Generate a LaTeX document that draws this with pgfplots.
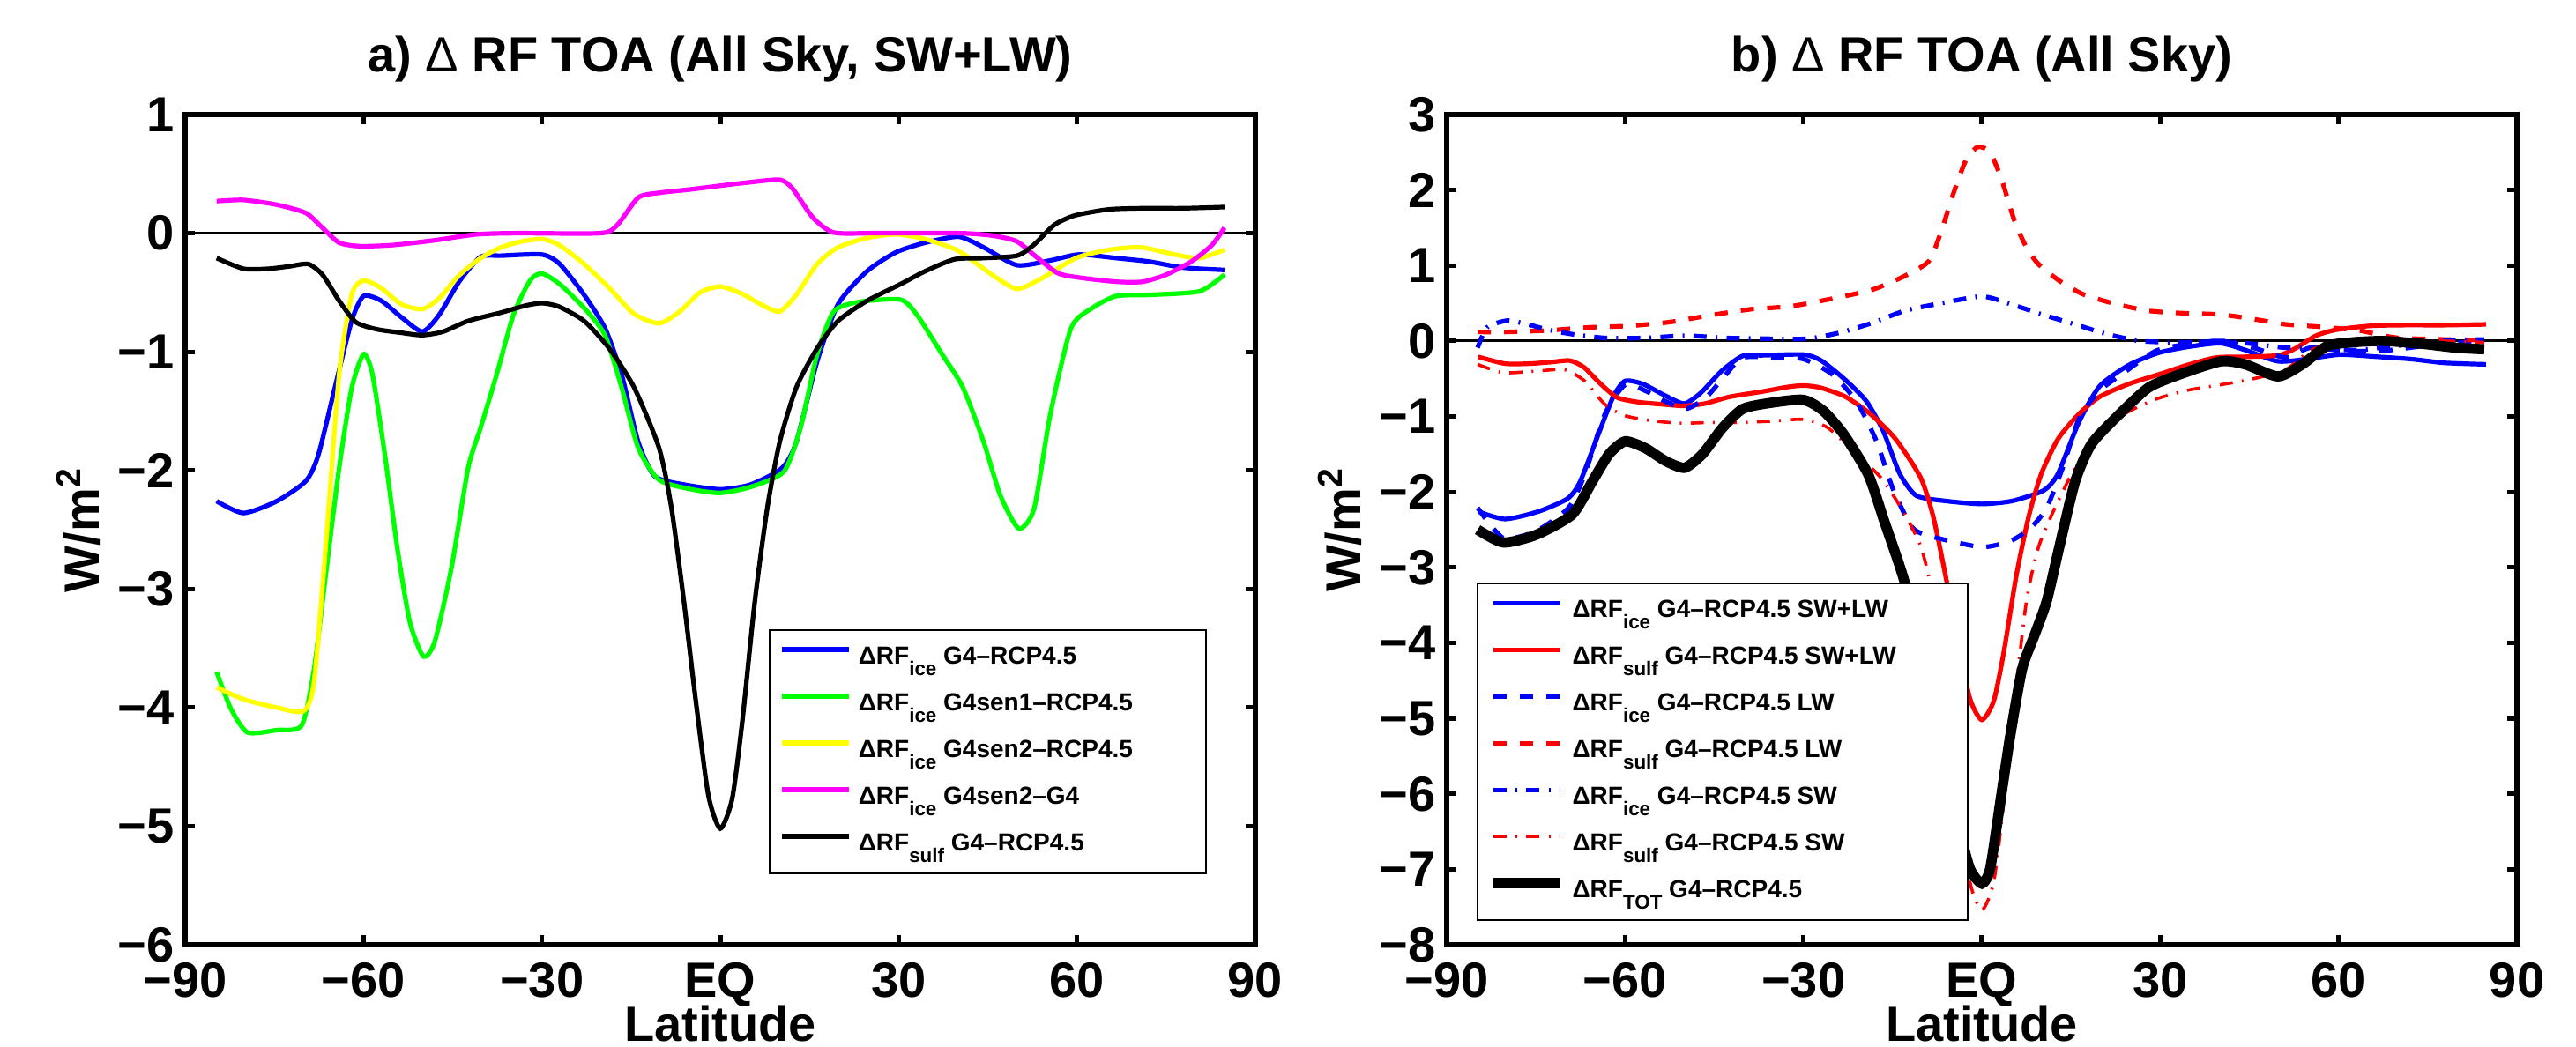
\documentclass[border=0pt]{standalone}
\usepackage{fontspec}
\setmainfont{Liberation Sans}
\usepackage{pgfplots}
\pgfplotsset{compat=1.18}

\definecolor{mblue}{rgb}{0,0,1}
\definecolor{mgreen}{rgb}{0,1,0}
\definecolor{myellow}{rgb}{1,1,0}
\definecolor{mmag}{rgb}{1,0,1}
\definecolor{mred}{rgb}{1,0,0}

\newcommand\sub[1]{\raisebox{-3.4pt}{\fontsize{5.6}{5.6}\selectfont #1}}

\pgfplotstableread{
x y
-84.7 -2.26
-80.2 -2.36
-74.6 -2.26
-69.7 -2.09
-67.6 -1.87
-64.8 -1.30
-62.0 -0.74
-60.0 -0.53
-57.0 -0.57
-53.6 -0.71
-50.1 -0.83
-47.3 -0.69
-43.8 -0.40
-40.3 -0.20
-36.9 -0.19
-30.0 -0.18
-27.0 -0.26
-22.9 -0.52
-19.4 -0.80
-16.6 -1.19
-13.8 -1.76
-11.0 -2.05
-6.1 -2.12
0 -2.16
5.1 -2.12
10.4 -1.98
12.8 -1.76
16.3 -1.08
19.8 -0.60
24.7 -0.32
29.6 -0.16
34.5 -0.08
40.1 -0.03
44.3 -0.12
49.9 -0.27
55.5 -0.23
60.3 -0.18
66.6 -0.21
72.2 -0.24
77.8 -0.29
84.8 -0.31
}\iceGfour

\pgfplotstableread{
x y
-84.7 -0.21
-80.2 -0.30
-76.0 -0.30
-72.5 -0.28
-69.3 -0.26
-66.9 -0.35
-64.1 -0.57
-61.3 -0.75
-57.8 -0.81
-53.6 -0.84
-50.1 -0.86
-46.6 -0.83
-42.4 -0.74
-36.9 -0.67
-32.7 -0.61
-30.0 -0.59
-27.1 -0.62
-22.9 -0.74
-18.7 -0.97
-14.5 -1.30
-10.3 -1.81
-8.2 -2.32
-6.1 -3.11
-4.1 -3.95
-2.0 -4.74
0 -5.02
2.0 -4.77
3.7 -4.12
5.8 -3.11
7.9 -2.32
10.0 -1.76
12.8 -1.30
16.3 -0.97
19.8 -0.74
24.7 -0.57
30.3 -0.43
34.5 -0.32
39.4 -0.22
44.3 -0.21
49.9 -0.19
52.7 -0.10
56.2 0.07
59.7 0.15
65.3 0.20
70.9 0.21
77.9 0.21
84.8 0.22
}\sulfGfour

\pgfplotsset{
  panel/.style={
    scale only axis, width=303.5pt, height=235.5pt,
    xmin=-90, xmax=90, xtick={-90,-60,-30,0,30,60,90},
    xticklabels={−90,−60,−30,EQ,30,60,90},
    tick align=inside, tick pos=both, major tick length=2.7pt,
    axis line style={line width=1.3pt},
    every tick/.style={black, line width=1.3pt},
    ticklabel style={font=\fontsize{14}{14}\selectfont\bfseries, inner sep=0pt},
    xticklabel style={anchor=north, yshift=-5pt},
    yticklabel style={anchor=east, xshift=-3pt},
    xlabel={Latitude}, ylabel={W/m\textsuperscript{2}},
    every axis x label/.style={at={(axis description cs:0.5,-0.0955)}, anchor=center, inner sep=0pt, font=\fontsize{14}{14}\selectfont\bfseries},
    every axis y label/.style={at={(axis description cs:-0.10,0.5)}, anchor=center, rotate=90, inner sep=0pt, font=\fontsize{14}{14}\selectfont\bfseries},
    every axis title/.style={at={(axis description cs:0.5,1.051)}, anchor=base, font=\fontsize{14}{14}\selectfont\bfseries},
    legend cell align=left,
    legend style={draw=black, line width=0.5pt, fill=white,
      font=\fontsize{7}{8}\selectfont\bfseries,
      inner xsep=3pt, inner ysep=4pt, row sep=5.25pt,
      nodes={inner sep=0pt, text height=5.5pt, text depth=2.5pt},
      /tikz/every odd column/.append style={column sep=2pt}},
    legend image code/.code={\draw[#1] (0pt,2.5pt) -- (19pt,2.5pt);},
  },
  lw/.style={line width=1.3pt, smooth, tension=0.4},
  dsh/.style={dash pattern=on 3.75pt off 3.75pt},
  dshdot/.style={dash pattern=on 3.7pt off 2.6pt on 0.5pt off 2.6pt},
}

\begin{document}
\begin{tikzpicture}
\path[use as bounding box] (0,0) rectangle (730.5pt,297pt);

% ---------------- panel a ----------------
\begin{axis}[panel, at={(52.5pt,29pt)}, anchor=south west,
  ymin=-6, ymax=1, ytick={-6,-5,-4,-3,-2,-1,0,1},
  yticklabels={−6,−5,−4,−3,−2,−1,0,1},
  title={a) {\mdseries Δ} RF TOA (All Sky, SW+LW)},
  legend style={at={(0.545,0.380)}, anchor=north west}]
\addplot[black, line width=0.7pt, forget plot] coordinates {(-90,0) (90,0)};
\addplot[mblue, lw] table {\iceGfour};
\addlegendentry{\makebox[95.5pt][l]{ΔRF\sub{ice} G4–RCP4.5}}
\addplot[mgreen, lw] coordinates {
(-84.7,-3.70) (-82.3,-4.01) (-79.5,-4.21) (-74.6,-4.19) (-70.4,-4.15) (-68.3,-3.67)
(-66.2,-2.82) (-64.1,-1.98) (-62.0,-1.31) (-60.0,-1.02) (-58.5,-1.19) (-56.4,-1.87)
(-54.3,-2.66) (-52.2,-3.28) (-49.9,-3.57) (-48.0,-3.44) (-45.2,-2.82) (-42.4,-1.98)
(-40.3,-1.64) (-37.6,-1.19) (-34.8,-0.69) (-32.0,-0.40) (-30.0,-0.34) (-27.0,-0.43)
(-22.9,-0.63) (-19.4,-0.86) (-16.6,-1.30) (-13.8,-1.81) (-10.3,-2.08) (-4.8,-2.16)
(0,-2.19) (5.1,-2.14) (10.7,-2.01) (13.5,-1.64) (16.3,-1.02) (19.1,-0.66) (23.3,-0.58)
(30.3,-0.56) (33.1,-0.69) (37.3,-1.02) (40.8,-1.30) (44.3,-1.76) (47.1,-2.21)
(50.2,-2.49) (52.8,-2.32) (55.5,-1.53) (59.0,-0.80) (62.6,-0.63) (66.6,-0.53)
(72.2,-0.52) (80.6,-0.49) (84.8,-0.35)};
\addlegendentry{\makebox[95.5pt][l]{ΔRF\sub{ice} G4sen1–RCP4.5}}
\addplot[myellow, lw] coordinates {
(-84.7,-3.83) (-80.2,-3.93) (-74.6,-4.00) (-70.1,-4.03) (-68.3,-3.78) (-66.2,-2.54)
(-64.1,-1.19) (-62.0,-0.52) (-60.0,-0.40) (-57.1,-0.46) (-53.6,-0.60) (-50.1,-0.64)
(-47.3,-0.55) (-43.8,-0.35) (-40.3,-0.21) (-36.9,-0.12) (-33.4,-0.07) (-30.0,-0.05)
(-27.1,-0.10) (-22.9,-0.26) (-18.7,-0.46) (-14.5,-0.68) (-10.3,-0.76) (-6.8,-0.66)
(-3.4,-0.50) (0,-0.45) (3.6,-0.51) (7.2,-0.61) (10.0,-0.66) (12.8,-0.52) (16.3,-0.26)
(19.8,-0.12) (24.7,-0.04) (29.6,-0.01) (34.5,-0.05) (40.1,-0.15) (45.7,-0.35)
(49.9,-0.47) (54.1,-0.38) (59.8,-0.21) (65.4,-0.14) (70.8,-0.12) (76.4,-0.18)
(80.6,-0.21) (84.8,-0.14)};
\addlegendentry{\makebox[95.5pt][l]{ΔRF\sub{ice} G4sen2–RCP4.5}}
\addplot[mmag, lw] coordinates {
(-84.7,0.27) (-80.2,0.28) (-74.6,0.24) (-69.7,0.17) (-66.9,0.045) (-64.1,-0.08)
(-60.6,-0.11) (-55.0,-0.10) (-48.0,-0.06) (-41.0,-0.01) (-34.1,0) (-20.1,0)
(-17.3,0.07) (-13.8,0.30) (-10.3,0.34) (-4.8,0.37) (0,0.40) (5.1,0.43) (10.0,0.45)
(12.1,0.38) (15.6,0.13) (19.1,0.005) (26.1,0) (40.1,0) (45.7,-0.02) (49.9,-0.07)
(53.4,-0.21) (56.9,-0.34) (61.2,-0.38) (66.8,-0.41) (71.0,-0.41) (75.0,-0.35)
(79.2,-0.24) (82.7,-0.10) (84.8,0.045)};
\addlegendentry{\makebox[95.5pt][l]{ΔRF\sub{ice} G4sen2–G4}}
\addplot[black, lw] table {\sulfGfour};
\addlegendentry{\makebox[95.5pt][l]{ΔRF\sub{sulf} G4–RCP4.5}}
\end{axis}

% ---------------- panel b ----------------
\begin{axis}[panel, at={(410.25pt,29pt)}, anchor=south west,
  ymin=-8, ymax=3, ytick={-8,-7,-6,-5,-4,-3,-2,-1,0,1,2,3},
  yticklabels={−8,−7,−6,−5,−4,−3,−2,−1,0,1,2,3},
  title={b) {\mdseries Δ} RF TOA (All Sky)},
  legend style={at={(0.028,0.436)}, anchor=north west}]
\addplot[black, line width=0.7pt, forget plot] coordinates {(-90,0) (90,0)};
\addplot[mblue, lw] table {\iceGfour};
\addlegendentry{\makebox[109pt][l]{ΔRF\sub{ice} G4–RCP4.5 SW+LW}}
\addplot[mred, lw] table {\sulfGfour};
\addlegendentry{\makebox[109pt][l]{ΔRF\sub{sulf} G4–RCP4.5 SW+LW}}
\addplot[mblue, lw, dsh] coordinates {
(-84.8,-2.21) (-80.5,-2.61) (-75.0,-2.52) (-69.5,-2.21) (-66.8,-1.77) (-63.4,-0.97)
(-60.0,-0.58) (-56.6,-0.66) (-53.2,-0.80) (-49.8,-0.90) (-46.4,-0.75) (-43.0,-0.44)
(-40.2,-0.22) (-34.8,-0.22) (-30.0,-0.24) (-25.2,-0.44) (-21.1,-0.80) (-17.7,-1.33)
(-15.0,-1.95) (-11.6,-2.48) (-7.5,-2.61) (0,-2.73) (4.8,-2.65) (8.2,-2.48)
(10.9,-2.21) (13.6,-1.68) (16.4,-1.02) (19.8,-0.66) (23.9,-0.42) (29.3,-0.13)
(34.8,-0.04) (40.2,0) (45.7,-0.09) (51.1,-0.22) (55.2,-0.09) (60.7,-0.13)
(67.5,-0.13) (77.0,-0.04) (84.5,0)};
\addlegendentry{\makebox[109pt][l]{ΔRF\sub{ice} G4–RCP4.5 LW}}
\addplot[mred, lw, dsh] coordinates {
(-84.8,0.12) (-79.8,0.12) (-73.0,0.14) (-66.1,0.18) (-59.3,0.20) (-52.5,0.25)
(-45.7,0.34) (-38.9,0.42) (-32.1,0.46) (-25.2,0.56) (-18.4,0.68) (-13.0,0.86)
(-8.9,1.06) (-6.8,1.46) (-4.8,1.95) (-2.7,2.39) (-0.7,2.57) (1.4,2.50) (3.4,2.12)
(5.5,1.59) (7.5,1.24) (9.5,1.02) (13.0,0.80) (17.0,0.62) (22.5,0.49) (28.0,0.40)
(33.4,0.37) (40.2,0.35) (45.7,0.29) (51.1,0.22) (56.6,0.19) (63.4,0.14) (70.2,0.04)
(84.5,0.01)};
\addlegendentry{\makebox[109pt][l]{ΔRF\sub{sulf} G4–RCP4.5 LW}}
\addplot[mblue, lw, dshdot] coordinates {
(-84.8,-0.09) (-83.2,0.18) (-79.8,0.27) (-76.4,0.22) (-73.0,0.15) (-68.9,0.09)
(-63.4,0.04) (-56.6,0.04) (-49.8,0.07) (-43.0,0.04) (-36.1,0.03) (-29.3,0.03)
(-23.9,0.11) (-18.4,0.24) (-13.0,0.40) (-7.5,0.49) (0,0.59) (4.8,0.49) (10.2,0.35)
(15.7,0.22) (21.1,0.09) (26.6,0) (33.4,-0.02) (40.2,0) (45.7,-0.04) (51.1,-0.09)
(56.6,-0.09) (63.4,-0.12) (77.0,0) (84.5,0.02)};
\addlegendentry{\makebox[109pt][l]{ΔRF\sub{ice} G4–RCP4.5 SW}}
\addplot[mred, line width=0.9pt, smooth, tension=0.4, dshdot] coordinates {
(-84.8,-0.31) (-80.5,-0.42) (-75.0,-0.40) (-70.2,-0.38) (-66.8,-0.53) (-63.4,-0.84)
(-60.0,-0.99) (-55.2,-1.06) (-50.5,-1.09) (-45.7,-1.08) (-40.2,-1.08) (-34.8,-1.06)
(-30.0,-1.04) (-25.9,-1.15) (-21.1,-1.50) (-17.0,-1.81) (-13.6,-2.21) (-10.2,-2.74)
(-7.5,-3.63) (-5.5,-4.78) (-3.7,-6.11) (-2.0,-7.17) (0,-7.54) (2.0,-7.17) (3.7,-6.11)
(5.5,-4.78) (7.5,-3.45) (9.5,-2.74) (12.3,-2.21) (15.7,-1.68) (19.8,-1.24)
(23.9,-0.97) (29.3,-0.77) (34.8,-0.65) (40.2,-0.58) (45.7,-0.50) (51.1,-0.38)
(55.2,-0.13) (59.3,-0.02) (66.1,0) (77.0,0) (84.5,-0.02)};
\addlegendentry{\makebox[109pt][l]{ΔRF\sub{sulf} G4–RCP4.5 SW}}
\addplot[black, line width=2.9pt, smooth, tension=0.4] coordinates {
(-84.8,-2.50) (-80.5,-2.67) (-75.0,-2.57) (-68.9,-2.30) (-65.5,-1.86) (-62.7,-1.50)
(-60.0,-1.33) (-56.6,-1.42) (-53.2,-1.59) (-50.0,-1.68) (-47.0,-1.50) (-43.6,-1.15)
(-40.2,-0.90) (-35.5,-0.82) (-30.0,-0.78) (-26.6,-0.93) (-23.2,-1.24) (-19.1,-1.77)
(-16.4,-2.39) (-13.0,-3.19) (-10.0,-4.20) (-6.5,-5.50) (-4.0,-6.40) (-2.0,-6.99)
(0,-7.19) (1.4,-6.99) (3.1,-6.11) (4.8,-5.22) (6.8,-4.34) (8.9,-3.89) (10.9,-3.45)
(13.0,-2.74) (15.7,-1.86) (18.4,-1.37) (22.5,-1.02) (28.0,-0.62) (33.4,-0.44)
(40.2,-0.27) (44.3,-0.31) (49.8,-0.47) (53.9,-0.31) (58.0,-0.07) (62.0,-0.02)
(67.5,0) (74.3,-0.04) (79.8,-0.09) (84.5,-0.11)};
\addlegendentry{\makebox[109pt][l]{ΔRF\sub{TOT} G4–RCP4.5}}
\end{axis}
\end{tikzpicture}
\end{document}
